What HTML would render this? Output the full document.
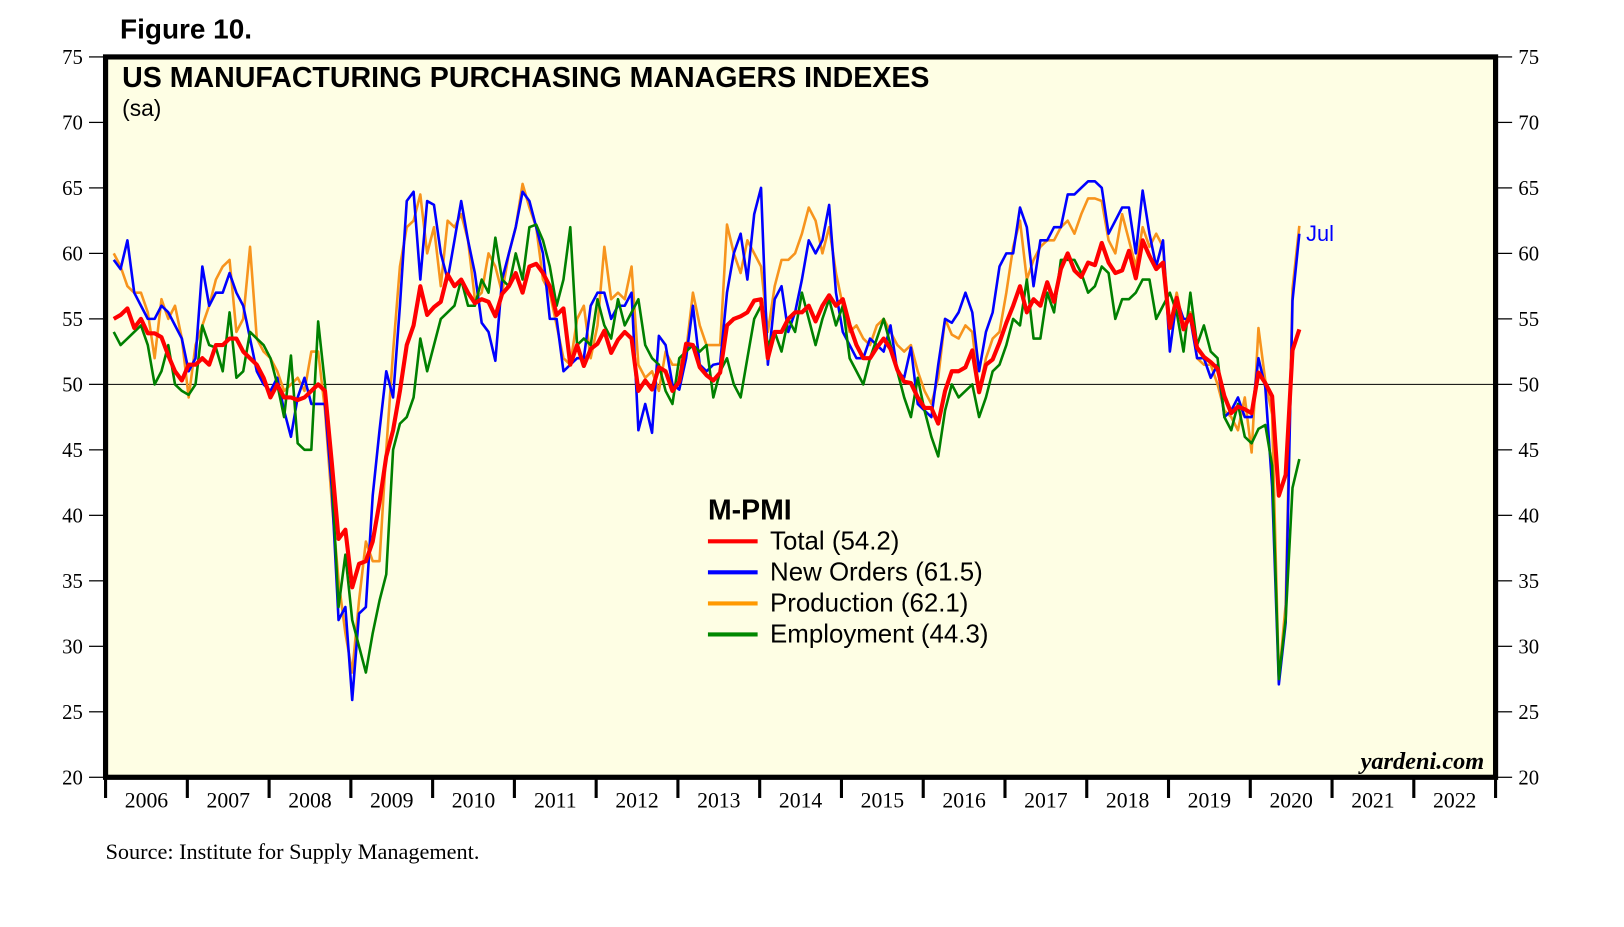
<!DOCTYPE html>
<html><head><meta charset="utf-8"><style>
body{margin:0;background:#fff;width:1624px;height:927px;overflow:hidden}
svg{display:block}
</style></head><body>
<svg id="chart" width="1624" height="927" xmlns="http://www.w3.org/2000/svg">
<g transform="scale(1.035)">
<text x="116" y="37" font-family="Liberation Sans, sans-serif" font-weight="bold" font-size="27">Figure 10.</text>
<rect x="102" y="55" width="1343" height="696" fill="#fefee4" stroke="#000" stroke-width="5"/>
<text x="118" y="84" font-family="Liberation Sans, sans-serif" font-weight="bold" font-size="27.6">US MANUFACTURING PURCHASING MANAGERS INDEXES</text>
<text x="118" y="112" font-family="Liberation Sans, sans-serif" font-size="22">(sa)</text>
<text x="1434" y="743" text-anchor="end" font-family="Liberation Serif, serif" font-style="italic" font-weight="bold" font-size="23.5">yardeni.com</text>
<text x="102" y="830" font-family="Liberation Serif, serif" font-size="21.5">Source: Institute for Supply Management.</text>
<g id="axes"></g><g id="series"></g>
<g font-family="Liberation Sans, sans-serif">
<text x="684" y="502" font-weight="bold" font-size="27.5">M-PMI</text>
<line x1="684" y1="523" x2="732" y2="523" stroke="#f00" stroke-width="4"/>
<text x="744" y="531" font-size="25">Total (54.2)</text>
<line x1="684" y1="553" x2="732" y2="553" stroke="#00f" stroke-width="4"/>
<text x="744" y="561" font-size="25">New Orders (61.5)</text>
<line x1="684" y1="583" x2="732" y2="583" stroke="#f90" stroke-width="4"/>
<text x="744" y="591" font-size="25">Production (62.1)</text>
<line x1="684" y1="613" x2="732" y2="613" stroke="#080" stroke-width="4"/>
<text x="744" y="621" font-size="25">Employment (44.3)</text>
</g>
<text x="1262" y="233" font-family="Liberation Sans, sans-serif" font-size="21" fill="#00f">Jul</text>
</g>
</svg>
<script>
const years=[2006,2007,2008,2009,2010,2011,2012,2013,2014,2015,2016,2017,2018,2019,2020,2021,2022];
const yTicks=[20,25,30,35,40,45,50,55,60,65,70,75];
const total=[55.0,55.3,55.8,54.3,55.0,53.9,53.9,53.6,52.2,51.0,50.3,51.5,
51.5,52.0,51.5,53.0,53.0,53.5,53.5,52.5,52.0,51.5,50.5,49.0,
50.0,49.0,49.0,48.8,49.0,49.5,50.0,49.5,44.0,38.2,38.9,34.5,
36.3,36.5,38.0,41.0,44.5,46.5,49.5,53.0,54.5,57.5,55.3,55.9,
56.3,58.4,57.5,58.0,57.0,56.2,56.5,56.3,55.2,56.9,57.5,58.5,
57.0,59.0,59.2,58.5,57.5,55.3,55.8,51.5,53.0,51.4,52.7,53.1,
54.1,52.4,53.4,54.0,53.5,49.5,50.3,49.6,51.3,51.0,49.5,50.2,
53.1,53.0,51.3,50.7,50.3,50.9,54.5,55.0,55.2,55.5,56.4,56.5,
52.0,54.0,54.0,55.0,55.5,55.5,56.0,54.8,56.0,56.8,56.0,56.5,
54.5,53.0,52.0,52.0,52.8,53.5,52.7,51.1,50.2,50.1,49.0,48.2,
48.2,47.0,49.5,51.0,51.0,51.3,52.6,49.4,51.5,51.9,53.2,54.7,
56.0,57.5,55.5,56.5,56.0,57.8,56.3,58.8,60.0,58.7,58.2,59.3,
59.1,60.8,59.3,58.5,58.7,60.2,58.1,61.0,59.8,58.8,59.3,54.3,
56.6,54.2,55.3,52.8,52.1,51.7,51.2,49.1,47.8,48.3,48.1,47.8,
50.9,50.1,49.1,41.5,43.1,52.6,54.2];
const newOrders=[59.5,58.8,61.0,57.0,56.0,55.0,55.0,56.0,55.5,54.5,53.5,51.0,
52.0,59.0,56.0,57.0,57.0,58.5,57.0,56.0,53.5,51.0,50.0,49.5,
50.5,48.0,46.0,49.0,50.5,48.5,48.5,48.5,42.0,32.0,33.0,25.9,
32.5,33.0,41.5,46.5,51.0,49.0,56.0,64.0,64.7,58.0,64.0,63.7,
60.0,58.0,61.0,64.0,61.0,58.5,54.7,54.0,51.8,58.0,60.0,62.0,
64.7,64.0,62.0,60.0,55.0,55.0,51.0,51.5,52.0,52.0,56.0,57.0,
57.0,55.0,56.0,56.0,57.0,46.5,48.5,46.3,53.7,53.0,50.0,49.6,
52.0,56.0,51.5,51.0,51.5,51.6,57.0,60.0,61.5,58.0,63.0,65.0,
51.5,56.5,57.5,54.0,55.5,58.0,61.0,60.0,61.0,63.7,57.0,54.0,
53.0,52.0,52.0,53.5,53.0,52.5,54.5,51.0,50.5,52.8,48.5,48.0,
47.5,51.5,55.0,54.7,55.5,57.0,55.5,51.0,54.0,55.5,59.0,60.0,
60.0,63.5,62.0,57.5,61.0,61.0,62.0,62.0,64.5,64.5,65.0,65.5,
65.5,65.0,61.5,62.5,63.5,63.5,60.0,64.8,61.5,59.0,61.0,52.5,
56.5,55.0,55.0,52.0,52.0,50.5,51.5,47.5,48.0,49.0,47.5,47.5,
52.0,49.8,42.2,27.1,31.8,56.4,61.5];
const production=[60.0,59.0,57.5,57.0,57.0,55.5,52.0,56.5,55.0,56.0,53.5,49.0,
53.0,54.5,56.0,58.0,59.0,59.5,54.0,55.0,60.5,53.5,52.5,52.0,
51.0,49.5,50.0,50.5,49.5,52.5,52.5,48.0,41.0,35.0,31.0,28.0,
33.5,38.0,36.5,36.5,45.0,52.5,59.0,62.0,62.5,64.5,60.0,62.0,
57.5,62.5,62.0,63.0,61.0,56.5,57.0,60.0,59.0,57.0,60.0,62.0,
65.3,63.5,62.0,58.0,57.0,54.5,52.0,51.5,55.0,56.0,52.0,54.5,
60.5,56.5,57.0,56.5,59.0,51.5,50.5,51.0,49.5,52.5,51.5,51.5,
52.5,57.0,54.5,53.0,53.0,53.0,62.2,60.0,58.5,61.0,60.0,59.0,
54.0,57.5,59.5,59.5,60.0,61.5,63.5,62.5,60.0,62.0,58.5,56.0,
54.0,54.5,53.5,53.0,54.5,55.0,54.0,53.0,52.5,53.0,51.0,49.5,
48.5,50.5,55.0,53.8,53.5,54.5,54.0,49.5,52.0,53.5,54.0,57.0,
60.5,62.5,58.0,59.5,60.5,61.0,61.0,62.0,62.5,61.5,63.0,64.2,
64.2,64.0,61.0,60.0,63.0,61.0,59.0,62.0,60.5,61.5,60.5,54.5,
57.0,54.5,55.5,52.0,51.5,51.5,50.0,48.0,47.5,46.5,49.0,44.8,
54.3,50.3,47.7,27.5,33.2,57.3,62.1];
const employment=[54.0,53.0,53.5,54.0,54.5,53.0,50.0,51.0,53.0,50.0,49.5,49.2,
50.0,54.5,53.0,52.8,51.0,55.5,50.5,51.0,54.0,53.5,53.0,52.0,
50.0,47.5,52.2,45.5,45.0,45.0,54.8,50.0,43.0,33.0,37.0,32.0,
30.0,28.0,31.0,33.5,35.5,45.0,47.0,47.5,49.0,53.5,51.0,53.0,
55.0,55.5,56.0,58.0,56.0,56.0,58.0,57.0,61.2,58.0,57.5,60.0,
58.0,62.0,62.2,61.0,59.0,56.0,58.0,62.0,53.0,53.5,53.0,56.5,
54.5,53.5,56.5,54.5,55.5,56.5,53.0,52.0,51.5,49.5,48.5,52.0,
52.5,53.0,52.5,53.0,49.0,51.0,52.0,50.0,49.0,52.0,55.0,56.0,
53.0,54.0,52.5,55.0,54.0,57.0,55.0,53.0,55.0,56.5,54.5,56.0,
52.0,51.0,50.0,52.0,53.5,55.0,53.0,51.0,49.0,47.5,50.5,48.0,
46.0,44.5,48.0,50.0,49.0,49.5,50.0,47.5,49.0,51.0,51.5,53.0,
55.0,54.5,58.0,53.5,53.5,57.0,55.5,59.5,59.5,59.5,58.5,57.0,
57.5,59.0,58.5,55.0,56.5,56.5,57.0,58.0,58.0,55.0,56.0,57.0,
55.5,52.5,57.0,53.0,54.5,52.5,52.0,47.5,46.5,48.5,46.0,45.5,
46.6,46.9,43.8,27.5,32.1,42.1,44.3];

const NS='http://www.w3.org/2000/svg';
const X0=102,X1=1445,Y0=751,Y1=55,YMIN=20,YMAX=75;
const monthW=(X1-X0)/(years.length*12);
function xScale(i){return X0+monthW*(i+1.2);}
function yearX(k){return X0+monthW*12*k;}
function yScale(v){return Y0-(v-YMIN)/(YMAX-YMIN)*(Y0-Y1);}
function mk(tag,attrs,parent){const e=document.createElementNS(NS,tag);for(const k in attrs)e.setAttribute(k,attrs[k]);parent.appendChild(e);return e;}
const axes=document.getElementById('axes');
yTicks.forEach(v=>{
  const y=yScale(v);
  const l=mk('line',{x1:86,x2:100,y1:y,y2:y,stroke:'#000','stroke-width':1.2},axes);
  
  
  const r=mk('line',{x1:1447,x2:1461,y1:y,y2:y,stroke:'#000','stroke-width':1.2},axes);
  
  
  const t=mk('text',{x:80,y:y+7,'text-anchor':'end','font-family':'Liberation Serif, serif','font-size':20},axes);
  t.textContent=v;
  
  
  const t2=mk('text',{x:1467,y:y+7,'font-family':'Liberation Serif, serif','font-size':20},axes);
  t2.textContent=v;
  
  
});
const ref=mk('line',{x1:X0,x2:X1,y1:yScale(50),y2:yScale(50),stroke:'#000','stroke-width':1},axes);


for(let k=0;k<=years.length;k++){
  const x=yearX(k);
  const tk=mk('line',{x1:x,x2:x,y1:753,y2:771,stroke:'#000','stroke-width':3},axes);
  
  
}
years.forEach((yr,k)=>{
  const t=mk('text',{x:yearX(k)+monthW*6,y:780,'text-anchor':'middle','font-family':'Liberation Serif, serif','font-size':21},axes);
  t.textContent=yr;
  
  
});
const ser=document.getElementById('series');
function draw(arr,color,w,name){
  const d=arr.map((v,i)=>(i?'L':'M')+xScale(i).toFixed(1)+','+yScale(v).toFixed(1)).join('');
  const p=mk('path',{d:d,fill:'none',stroke:color,'stroke-width':w,'stroke-linejoin':'round'},ser);
  
  
}
draw(production,'#f7941d',2.5,'production-line');
draw(newOrders,'#0000ff',2.5,'new-orders-line');
draw(employment,'#008000',2.5,'employment-line');
draw(total,'#ff0000',4,'total-line');
</script>
</body></html>
